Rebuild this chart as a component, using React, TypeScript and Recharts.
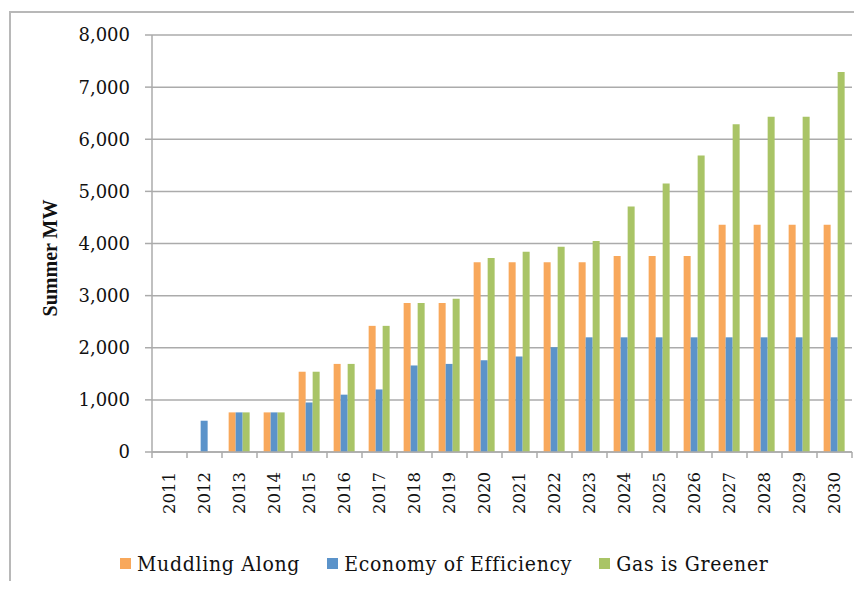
import React from 'react';
import { BarChart, Bar, XAxis, YAxis, CartesianGrid, Label } from 'recharts';

const years = [
  '2011', '2012', '2013', '2014', '2015', '2016', '2017', '2018', '2019', '2020',
  '2021', '2022', '2023', '2024', '2025', '2026', '2027', '2028', '2029', '2030',
];
const muddlingAlong = [
  0, 0, 760, 760, 1540, 1690, 2420, 2860, 2860, 3640,
  3640, 3640, 3640, 3760, 3760, 3760, 4360, 4360, 4360, 4360,
];
const economyOfEfficiency = [
  0, 600, 760, 760, 950, 1100, 1200, 1660, 1690, 1760,
  1830, 2010, 2200, 2200, 2200, 2200, 2200, 2200, 2200, 2200,
];
const gasIsGreener = [
  0, 0, 760, 760, 1540, 1690, 2420, 2860, 2940, 3720,
  3840, 3940, 4050, 4710, 5150, 5690, 6290, 6430, 6430, 7290,
];
const yTicks = [0, 1000, 2000, 3000, 4000, 5000, 6000, 7000, 8000];

const data = years.map((year, i) => ({
  year,
  muddling: muddlingAlong[i],
  economy: economyOfEfficiency[i],
  gas: gasIsGreener[i],
}));

const legendItems = [
  { name: 'Muddling Along', color: '#F8A85B' },
  { name: 'Economy of Efficiency', color: '#5B93CA' },
  { name: 'Gas is Greener', color: '#A9C466' },
];

const W = 846;
const H = 573;
const margin = { top: 27, right: 2, left: 0, bottom: 59 };
const yAxisWidth = 144;
const band = (W - margin.left - margin.right - yAxisWidth) / years.length;
const gray = '#ababab';
const serif = "'DejaVu Serif', serif";
const condensed = "'DejaVu Serif Condensed', 'DejaVu Serif', serif";

function XTick(props: any) {
  const { x, y, payload, index } = props;
  const half = band / 2;
  return (
    <g>
      <line x1={x - half} y1={y} x2={x - half} y2={y + 6} stroke={gray} strokeWidth={1.5} />
      {index === years.length - 1 && (
        <line x1={x + half} y1={y} x2={x + half} y2={y + 6} stroke={gray} strokeWidth={1.5} />
      )}
      <g transform={`translate(${x},${y})`}>
        <text
          transform='rotate(-90)'
          x={-20}
          y={0}
          dy='0.36em'
          textAnchor='end'
          fontFamily={serif}
          fontSize={16.5}
          fill='#111'
        >
          {payload.value}
        </text>
      </g>
    </g>
  );
}

export default function App() {
  return (
    <div style={{ position: 'relative', width: W, height: H, overflow: 'hidden', background: '#fff' }}>
      <div
        style={{
          position: 'absolute',
          left: 1,
          top: 3,
          width: 1000,
          height: 1000,
          borderTop: '2px solid #b8b8b8',
          borderLeft: '2px solid #b8b8b8',
        }}
      />
      <BarChart
        width={W}
        height={H}
        data={data}
        margin={margin}
        barCategoryGap='19%'
        barGap={0}
        style={{ position: 'absolute', left: 0, top: 0 }}
      >
        <CartesianGrid vertical={false} stroke={gray} strokeWidth={1.5} />
        <XAxis
          dataKey='year'
          interval={0}
          height={70}
          tickSize={0}
          tickMargin={0}
          tickLine={false}
          axisLine={{ stroke: gray, strokeWidth: 1.5 }}
          tick={<XTick />}
        />
        <YAxis
          width={yAxisWidth}
          domain={[0, 8000]}
          ticks={yTicks}
          interval={0}
          tickSize={7}
          tickMargin={15}
          tickFormatter={(v: number) => v.toLocaleString('en-US')}
          axisLine={{ stroke: gray, strokeWidth: 1.5 }}
          tickLine={{ stroke: gray, strokeWidth: 1.5 }}
          tick={{ fontFamily: serif, fontSize: 18, fill: '#111' }}
        >
          <Label
            content={() => (
              <text
                x={42}
                y={250}
                transform='rotate(-90, 42, 250)'
                textAnchor='middle'
                dominantBaseline='central'
                fontFamily="'Liberation Serif', serif"
                fontWeight='bold'
                fontSize={20}
                fill='#111'
              >
                Summer MW
              </text>
            )}
          />
        </YAxis>
        <Bar dataKey='muddling' name='Muddling Along' fill={legendItems[0].color} isAnimationActive={false} />
        <Bar dataKey='economy' name='Economy of Efficiency' fill={legendItems[1].color} isAnimationActive={false} />
        <Bar dataKey='gas' name='Gas is Greener' fill={legendItems[2].color} isAnimationActive={false} />
      </BarChart>
      <div
        style={{
          position: 'absolute',
          left: 112,
          top: 543,
          display: 'flex',
          gap: 27,
          fontFamily: condensed,
          fontSize: 21,
          letterSpacing: 0.7,
          color: '#111',
          lineHeight: '26px',
        }}
      >
        {legendItems.map((item) => (
          <div key={item.name} style={{ display: 'flex', alignItems: 'flex-start' }}>
            <span
              style={{
                display: 'inline-block',
                width: 11,
                height: 11,
                background: item.color,
                marginRight: 6,
                marginTop: 7,
              }}
            />
            <span>{item.name}</span>
          </div>
        ))}
      </div>
    </div>
  );
}
